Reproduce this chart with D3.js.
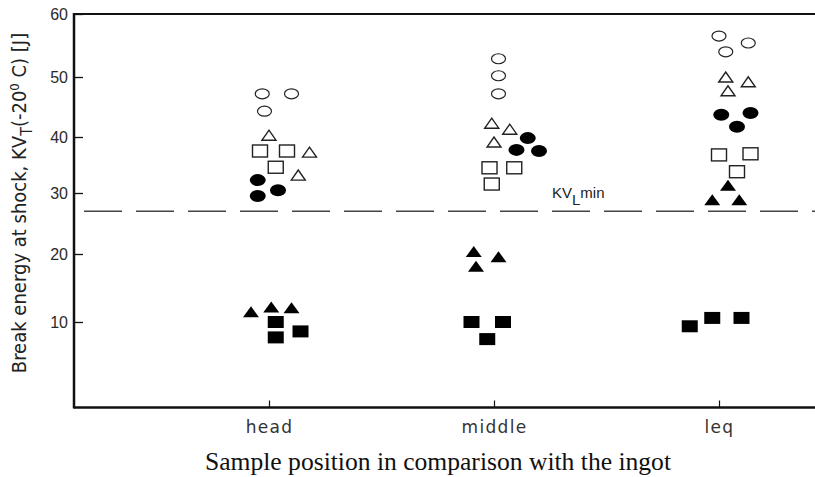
<!DOCTYPE html>
<html>
<head>
<meta charset="utf-8">
<script src="https://cdn.jsdelivr.net/npm/d3@7"></script>
<style>
  html, body { margin: 0; padding: 0; background: #fff; }
  svg { display: block; }
</style>
</head>
<body>
<svg id="chart" width="815" height="477"></svg>
<script>
// ---------------- data ----------------
const categories = ["head", "middle", "leq"];
const yTicks = [10, 20, 30, 40, 50, 60];
const kvLimit = 27;

// each point: category index, horizontal shift (in category units), value [J]
const openCircles = [
  [0, -0.03, 47.2], [0, 0.10, 47.2], [0, -0.02, 44.3],
  [1, 0.02, 52.9], [1, 0.02, 50.2], [1, 0.02, 47.2],
  [2, 0.00, 56.5], [2, 0.13, 55.4], [2, 0.03, 54.0]
];
const openTriangles = [
  [0, 0.00, 40.3], [0, 0.18, 37.3], [0, 0.13, 33.2],
  [1, -0.01, 42.3], [1, 0.07, 41.3], [1, 0.00, 39.1],
  [2, 0.03, 50.0], [2, 0.13, 49.2], [2, 0.04, 47.7]
];
const openSquares = [
  [0, -0.04, 37.5], [0, 0.08, 37.5], [0, 0.03, 34.6],
  [1, -0.02, 34.5], [1, 0.09, 34.5], [1, -0.01, 31.6],
  [2, 0.00, 36.8], [2, 0.14, 37.0], [2, 0.08, 33.8]
];
const filledEllipses = [
  [0, -0.05, 32.3], [0, 0.04, 30.5], [0, -0.05, 29.5],
  [1, 0.15, 39.8], [1, 0.10, 37.7], [1, 0.20, 37.5],
  [2, 0.01, 43.7], [2, 0.14, 44.0], [2, 0.08, 41.7]
];
const filledTriangles = [
  [0, -0.08, 11.5], [0, 0.01, 12.2], [0, 0.10, 12.1],
  [1, -0.09, 20.4], [1, 0.02, 19.6], [1, -0.08, 18.2],
  [2, 0.04, 31.4], [2, -0.03, 28.9], [2, 0.09, 28.9]
];
const filledSquares = [
  [0, 0.03, 10.0], [0, 0.14, 8.9], [0, 0.03, 8.2],
  [1, -0.10, 10.0], [1, 0.04, 10.0], [1, -0.03, 8.0],
  [2, -0.13, 9.5], [2, -0.03, 10.6], [2, 0.10, 10.6]
];

// ---------------- layout ----------------
const svg = d3.select("#chart");
const W = 815;
const plotLeft = 74, plotTop = 14, plotBottom = 407.5;

const x = d3.scaleLinear().domain([0, 2]).range([269, 719]);
// axis as drawn in the original is not perfectly uniform
const y = d3.scaleLinear()
  .domain([0, 10, 20, 30, 40, 50, 60])
  .range([plotBottom, 322, 254, 193, 137, 77, plotTop]);

const ink = "#111";

// frame: top line
svg.append("line")
  .attr("x1", plotLeft).attr("x2", W).attr("y1", plotTop).attr("y2", plotTop)
  .attr("stroke", ink).attr("stroke-width", 2);

// y axis
const yAxis = d3.axisRight(y).tickValues(yTicks).tickSize(9).tickFormat(d3.format("d"));
const gy = svg.append("g").attr("transform", `translate(${plotLeft},0)`).call(yAxis);
gy.select(".domain").remove();
gy.selectAll(".tick line").attr("stroke", ink).attr("stroke-width", 1.3);
gy.selectAll(".tick text")
  .attr("x", -6).attr("text-anchor", "end")
  .attr("font-family", "Liberation Sans, Arial, sans-serif")
  .attr("font-size", 16).attr("fill", "#2a2a2a");
svg.append("line")
  .attr("x1", plotLeft).attr("x2", plotLeft).attr("y1", plotTop - 1).attr("y2", plotBottom + 1)
  .attr("stroke", ink).attr("stroke-width", 2.5);

// x axis
const xAxis = d3.axisTop(x).tickValues([0, 1, 2]).tickSize(7).tickFormat(i => categories[i]);
const gx = svg.append("g").attr("transform", `translate(0,${plotBottom})`).call(xAxis);
gx.select(".domain").remove();
gx.selectAll(".tick line").attr("stroke", ink).attr("stroke-width", 1.2);
gx.selectAll(".tick text")
  .attr("y", 25).attr("dy", 0)
  .attr("font-family", "DejaVu Sans, sans-serif")
  .attr("font-size", 17).attr("letter-spacing", 1.3)
  .attr("fill", "#333");
svg.append("line")
  .attr("x1", plotLeft).attr("x2", W).attr("y1", plotBottom).attr("y2", plotBottom)
  .attr("stroke", ink).attr("stroke-width", 2.5);

// KV_L min dashed line
svg.append("line")
  .attr("x1", plotLeft + 10).attr("x2", W).attr("y1", y(kvLimit)).attr("y2", y(kvLimit))
  .attr("stroke", "#444").attr("stroke-width", 1.6)
  .attr("stroke-dasharray", "38,14");

const kvText = svg.append("text")
  .attr("x", 552).attr("y", y(kvLimit) - 13)
  .attr("font-family", "Liberation Sans, Arial, sans-serif")
  .attr("font-size", 15).attr("fill", "#222");
kvText.append("tspan").text("KV");
kvText.append("tspan").attr("dy", 7).text("L");
kvText.append("tspan").attr("dy", -7).text("min");

// ---------------- markers ----------------
const px = d => x(d[0] + d[1]);
const py = d => y(d[2]);

function triPath(w, h) {
  return `M${-w / 2},${h / 2}L0,${-h / 2}L${w / 2},${h / 2}Z`;
}

const gm = svg.append("g");

gm.selectAll(".oc").data(openCircles).join("ellipse")
  .attr("cx", px).attr("cy", py).attr("rx", 7).attr("ry", 5)
  .attr("fill", "#fff").attr("stroke", "#222").attr("stroke-width", 1.2);

gm.selectAll(".ot").data(openTriangles).join("path")
  .attr("transform", d => `translate(${px(d)},${py(d)})`)
  .attr("d", triPath(14, 10))
  .attr("fill", "#fff").attr("stroke", "#222").attr("stroke-width", 1.4);

gm.selectAll(".os").data(openSquares).join("rect")
  .attr("x", d => px(d) - 7.5).attr("y", d => py(d) - 6)
  .attr("width", 15).attr("height", 12)
  .attr("fill", "#fff").attr("stroke", "#222").attr("stroke-width", 1.4);

gm.selectAll(".fe").data(filledEllipses).join("ellipse")
  .attr("cx", px).attr("cy", py).attr("rx", 8).attr("ry", 6)
  .attr("fill", "#000");

gm.selectAll(".ft").data(filledTriangles).join("path")
  .attr("transform", d => `translate(${px(d)},${py(d)})`)
  .attr("d", triPath(16, 11))
  .attr("fill", "#000");

gm.selectAll(".fs").data(filledSquares).join("rect")
  .attr("x", d => px(d) - 8).attr("y", d => py(d) - 6)
  .attr("width", 16).attr("height", 12)
  .attr("fill", "#000");

// ---------------- titles ----------------
svg.append("text")
  .attr("x", 438).attr("y", 470)
  .attr("text-anchor", "middle")
  .attr("font-family", "Liberation Serif, Times New Roman, serif")
  .attr("font-size", 25).attr("fill", "#111")
  .attr("textLength", 466).attr("lengthAdjust", "spacingAndGlyphs")
  .text("Sample position in comparison with the ingot");

const yt = svg.append("text")
  .attr("transform", "translate(26,203) rotate(-90)")
  .attr("text-anchor", "middle")
  .attr("font-family", "Liberation Sans Narrow, DejaVu Sans Condensed, Arial Narrow, sans-serif")
  .attr("font-size", 20).attr("fill", "#222");
yt.append("tspan").text("Break energy at shock, KV");
yt.append("tspan").attr("dy", 6).attr("font-size", 16).text("T");
yt.append("tspan").attr("dy", -6).text("(-20");
yt.append("tspan").attr("dy", -7).attr("font-size", 13).text("0");
yt.append("tspan").attr("dy", 7).text(" C) [J]");
</script>
</body>
</html>
